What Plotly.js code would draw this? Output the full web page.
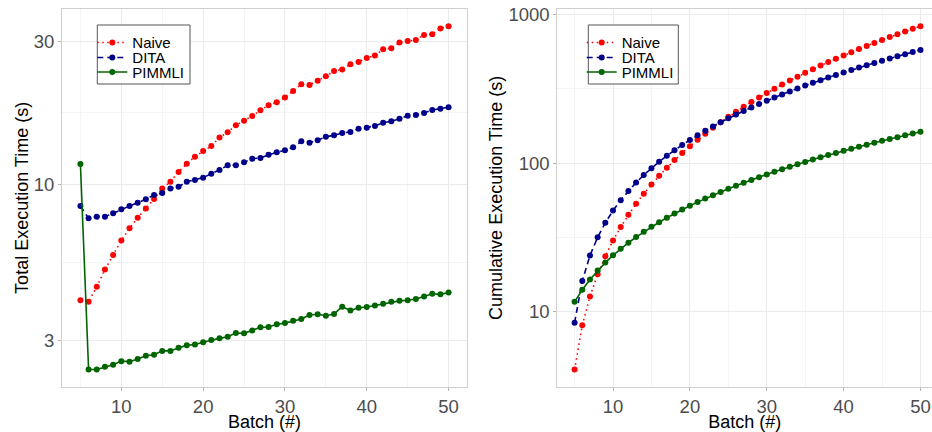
<!DOCTYPE html>
<html>
<head>
<meta charset="utf-8">
<script src="https://cdn.plot.ly/plotly-3.0.1.min.js"></script>
<style>html,body{margin:0;padding:0;background:#fff;}#chart{width:932px;height:432px;}</style>
</head>
<body>
<div id="chart"></div>
<script>
// ---- data ----
var batches = [5,6,7,8,9,10,11,12,13,14,15,16,17,18,19,20,21,22,23,24,25,26,27,28,29,30,31,32,33,34,35,36,37,38,39,40,41,42,43,44,45,46,47,48,49,50];

var naiveTotal = [4.09,4.04,4.54,5.18,5.79,6.48,7.11,7.72,8.29,8.91,9.67,10.18,10.97,11.69,12.34,12.90,13.40,14.29,14.89,15.71,16.28,16.88,17.64,18.33,18.76,19.44,20.46,21.55,21.43,22.15,22.92,23.87,24.12,25.13,25.59,26.39,26.86,28.22,28.43,29.68,30.08,30.31,31.50,31.67,33.06,33.68];
var ditaTotal = [8.44,7.68,7.78,7.78,7.98,8.23,8.44,8.66,8.89,9.19,9.33,9.67,9.79,10.18,10.31,10.50,10.83,11.14,11.55,11.55,11.82,12.15,12.22,12.53,12.76,12.96,13.27,13.89,13.74,14.00,14.39,14.55,14.81,14.92,15.31,15.43,15.63,16.03,16.21,16.53,16.92,17.01,17.28,17.68,17.86,18.05];
var pimmliTotal = [11.67,2.40,2.40,2.45,2.49,2.56,2.55,2.60,2.67,2.69,2.77,2.77,2.84,2.89,2.91,2.96,3.01,3.05,3.09,3.18,3.17,3.24,3.32,3.33,3.40,3.43,3.49,3.54,3.65,3.67,3.63,3.68,3.89,3.78,3.86,3.88,3.93,3.98,4.04,4.07,4.09,4.13,4.21,4.30,4.28,4.34];

var naiveCum = [4.09,8.13,12.67,17.85,23.64,30.12,37.23,44.95,53.24,62.15,71.82,82.00,92.97,104.66,117.00,129.90,143.30,157.59,172.48,188.19,204.47,221.35,238.99,257.32,276.08,295.52,315.98,337.53,358.96,381.11,404.03,427.90,452.02,477.15,502.74,529.13,555.99,584.21,612.64,642.32,672.40,702.71,734.21,765.88,798.94,832.62];
var ditaCum = [8.44,16.12,23.90,31.68,39.66,47.89,56.33,64.99,73.88,83.07,92.40,102.07,111.86,122.04,132.35,142.85,153.68,164.82,176.37,187.92,199.74,211.89,224.11,236.64,249.40,262.36,275.63,289.52,303.26,317.26,331.65,346.20,361.01,375.93,391.24,406.67,422.30,438.33,454.54,471.07,487.99,505.00,522.28,539.96,557.82,575.87];
var pimmliCum = [11.67,14.07,16.47,18.92,21.41,23.97,26.52,29.12,31.79,34.48,37.25,40.02,42.86,45.75,48.66,51.62,54.63,57.68,60.77,63.95,67.12,70.36,73.68,77.01,80.41,83.84,87.33,90.87,94.52,98.19,101.82,105.50,109.39,113.17,117.03,120.91,124.84,128.82,132.86,136.93,141.02,145.15,149.36,153.66,157.94,162.28];

var seriesNames = ['Naive','DITA','PIMMLI'];
var xTicks = [10,20,30,40,50];
var xMinor = [5,15,25,35,45];
var leftYTicks = [3,10,30];
var leftYMinorGrid = [5.477,17.32];
var leftLogTicks = [3,4,5,6,7,8,9,10,20,30];
var rightYTicks = [10,100,1000];
var rightYMinorGrid = [3.162,31.62,316.2];
var rightLogTicks = [4,5,6,7,8,9,10,20,30,40,50,60,70,80,90,100,200,300,400,500,600,700,800,900,1000];

// ---- styles ----
var FONT = '"Liberation Sans", Arial, Helvetica, sans-serif';
var styles = [
  {color:'#FF0000', dash:'1.5px,3.5px'},
  {color:'#00008B', dash:'6px,4px'},
  {color:'#006400', dash:'solid'}
];

function mk(x, y, i, xa, ya, legendId) {
  return {
    type:'scatter', mode:'lines+markers', x:x, y:y, name:seriesNames[i],
    xaxis:xa, yaxis:ya, legend:legendId,
    line:{color:styles[i].color, width:1.6, dash:styles[i].dash},
    marker:{color:styles[i].color, size:6, symbol:'circle'},
    hoverinfo:'skip'
  };
}

var traces = [
  mk(batches, naiveTotal, 0, 'x', 'y', 'legend'),
  mk(batches, ditaTotal, 1, 'x', 'y', 'legend2'),
  mk(batches, pimmliTotal, 2, 'x', 'y', 'legend3'),
  mk(batches, naiveCum, 0, 'x2', 'y2', 'legend4'),
  mk(batches, ditaCum, 1, 'x2', 'y2', 'legend5'),
  mk(batches, pimmliCum, 2, 'x2', 'y2', 'legend6')
];

var W = 932, H = 432;
var GRID = '#EBEBEB', GRIDMINOR = '#F4F4F4', BORDER = '#CFCFCF', TICKC = '#B3B3B3';
var tickFont = {family:FONT, size:18.5, color:'#4D4D4D'};
var titleFont = {family:FONT, size:18, color:'#000000'};

function xAxis(domain, range) {
  return {
    domain:domain, range:range, tickmode:'array', tickvals:xTicks,
    showgrid:true, gridcolor:GRID, gridwidth:1,
    minor:{tickmode:'array', tickvals:xMinor, showgrid:true, gridcolor:GRIDMINOR, gridwidth:1, ticks:''},
    zeroline:false, showline:true, mirror:true, linecolor:BORDER, linewidth:1,
    ticks:'outside', ticklen:3, tickcolor:TICKC, tickwidth:1,
    tickfont:tickFont,
    title:{text:'Batch (#)', font:titleFont, standoff:3}
  };
}
function yAxis(domain, range, ticks, minorGrid, title, anchor, standoff) {
  return {
    domain:domain, type:'log', range:range, anchor:anchor,
    tickmode:'array', tickvals:ticks, ticktext:ticks.map(String),
    showgrid:true, gridcolor:GRID, gridwidth:1,
    minor:{tickmode:'array', tickvals:minorGrid, showgrid:true, gridcolor:GRIDMINOR, gridwidth:1, ticks:''},
    zeroline:false, showline:true, mirror:true, linecolor:BORDER, linewidth:1,
    ticks:'outside', ticklen:3, tickcolor:TICKC, tickwidth:1,
    tickfont:tickFont,
    title:{text:title, font:titleFont, standoff:standoff}
  };
}
function logTickAxis(domain, range, vals, overlay, anchor) {
  return {
    domain:domain, type:'log', range:range, overlaying:overlay, anchor:anchor, side:'left',
    tickmode:'array', tickvals:vals, showticklabels:false,
    showgrid:false, zeroline:false, showline:false,
    ticks:'inside', ticklen:3.5, tickcolor:TICKC, tickwidth:1
  };
}

var yDom = [(H-386.7)/H, (H-9)/H];
function legendAt(x, yPx) {
  return {x:x, xanchor:'left', y:1 - yPx/H, yanchor:'middle',
          bgcolor:'rgba(0,0,0,0)', borderwidth:0,
          font:{family:FONT, size:15, color:'#000000'}};
}
var rowY = [42.7, 57.7, 72.3];

var layout = {
  width:W, height:H, margin:{l:0, r:0, t:0, b:0},
  paper_bgcolor:'#FFFFFF', plot_bgcolor:'#FFFFFF',
  font:{family:FONT},
  xaxis: xAxis([62/W, 467/W], [2.75, 52.25]),
  yaxis: yAxis(yDom, [0.3228, 1.5848], leftYTicks, leftYMinorGrid, 'Total Execution Time (s)', 'x', 0),
  xaxis2: Object.assign(xAxis([557.3/W, 1], [2.75, 51.5]), {anchor:'y2'}),
  yaxis2: yAxis(yDom, [0.4963, 3.0358], rightYTicks, rightYMinorGrid, 'Cumulative Execution Time (s)', 'x2', 1),
  yaxis3: logTickAxis(yDom, [0.3228, 1.5848], leftLogTicks, 'y', 'x'),
  yaxis4: logTickAxis(yDom, [0.4963, 3.0358], rightLogTicks, 'y2', 'x2'),
  legend: legendAt(92.3/W, rowY[0]),
  legend2: legendAt(92.3/W, rowY[1]),
  legend3: legendAt(92.3/W, rowY[2]),
  legend4: legendAt(581.7/W, rowY[0]),
  legend5: legendAt(581.7/W, rowY[1]),
  legend6: legendAt(581.7/W, rowY[2]),
  shapes: [
    {type:'rect', xref:'paper', yref:'paper', x0:97.3/W, x1:190/W, y0:1-84/H, y1:1-25/H,
     line:{color:'#555555', width:1}, fillcolor:'#FFFFFF', layer:'above'},
    {type:'rect', xref:'paper', yref:'paper', x0:588.3/W, x1:678.3/W, y0:1-84/H, y1:1-25/H,
     line:{color:'#555555', width:1}, fillcolor:'#FFFFFF', layer:'above'}
  ],
  showlegend:true
};

Plotly.newPlot('chart', traces, layout, {displayModeBar:false, staticPlot:true});
</script>
</body>
</html>
